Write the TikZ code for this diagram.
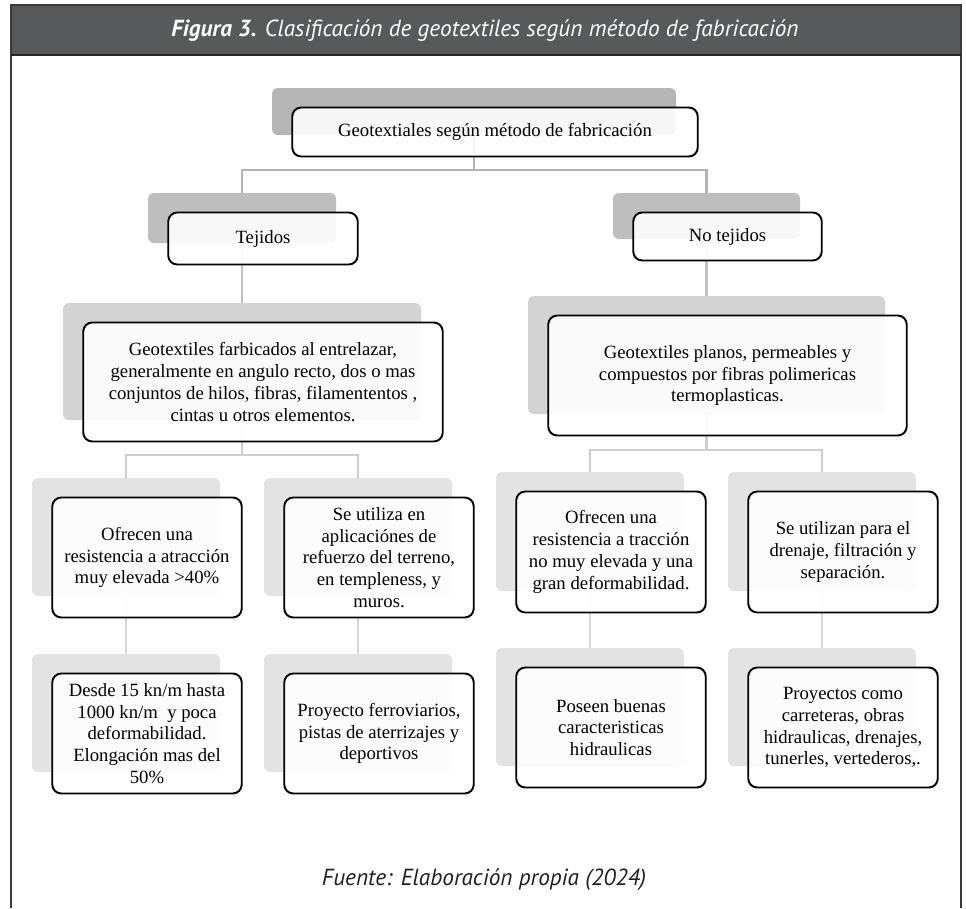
\documentclass[tikz,border=0pt]{standalone}
\usepackage{fontspec}
\setmainfont{Liberation Serif}
\newfontfamily\capfont{PT Sans}
\usetikzlibrary{calc}
\pgfdeclarelayer{bg}
\pgfsetlayers{bg,main}

\definecolor{hdrgray}{HTML}{58595B}
\definecolor{framegray}{HTML}{3A3A3A}
\definecolor{shadeA}{HTML}{B6B6B6}
\definecolor{shadeB}{HTML}{BEBEBE}
\definecolor{shadeC}{HTML}{D3D3D3}
\definecolor{shadeD}{HTML}{E3E3E3}
\definecolor{lineA}{HTML}{B3B3B3}
\definecolor{lineB}{HTML}{C2C2C2}
\definecolor{lineC}{HTML}{CFCFCF}
\definecolor{lineD}{HTML}{D8D8D8}
\definecolor{foottext}{HTML}{231F20}

\tikzset{
  shadebox/.style={rectangle, rounded corners=6pt, draw=none, inner sep=0pt},
  textbox/.style={rectangle, rounded corners=9pt, draw=black, line width=1.9pt,
    fill=white, fill opacity=0.9, text opacity=1, inner sep=1pt, align=center,
    font=\fontsize{18.7}{21.8}\selectfont},
  conn/.style={line width=2.3pt},
  captext/.style={font=\capfont\itshape\fontsize{23.3}{28}\selectfont},
}

% #1 name, #2 shade colour, #3-#6 shade corners (x1,y1,x2,y2), #7 text
\newcommand{\geobox}[7]{%
  \node[shadebox, fill=#2, minimum width={(#5-#3)*1pt}, minimum height={(#6-#4)*1pt}]
    (#1s) at ({(#3+#5)/2},{(#4+#6)/2}) {};
  \node[textbox, minimum width={(#5-#3+1.5)*1pt}, minimum height={(#6-#4+2)*1pt}]
    (#1) at ({(#3+#5)/2+21},{(#4+#6)/2+20.5}) {#7};
}

\begin{document}
\begin{tikzpicture}[x=1pt,y=-1pt]
\useasboundingbox (0,0) rectangle (966,908);

% header band and frame
\fill[hdrgray] (11,5) rectangle (961,55);
\draw[framegray, line width=2.4pt] (11,908) -- (11,5) -- (961,5) -- (961,908);
\draw[black!85, line width=2pt] (11,55) -- (961,55);
\node[captext, text=white] (title) at (485,31)
  {\textbf{Figura 3.} Clasificación de geotextiles según método de fabricación};

% level 1
\geobox{top}{shadeA}{272}{88}{676}{135}{Geotextiales según método de fabricación}
% level 2
\geobox{tej}{shadeB}{148}{193}{336}{243}{Tejidos}
\geobox{notej}{shadeB}{613}{193}{800}{239}{No tejidos}
% level 3
\geobox{tejd}{shadeC}{63}{303}{421}{420}{Geotextiles farbicados al entrelazar,\\generalmente en angulo recto, dos o mas\\conjuntos de hilos, fibras, filamententos ,\\cintas u otros elementos.}
\geobox{notejd}{shadeC}{528}{296}{885}{414}{Geotextiles planos, permeables y\\compuestos por fibras polimericas\\termoplasticas.}
% level 4
\geobox{ta}{shadeD}{32}{478}{220}{596}{Ofrecen una\\resistencia a atracción\\muy elevada >40\%}
\geobox{tb}{shadeD}{264}{478}{452}{596}{Se utiliza en\\aplicaciónes de\\refuerzo del terreno,\\en templeness, y\\muros.}
\geobox{na}{shadeD}{496}{472}{684}{591}{Ofrecen una\\resistencia a tracción\\no muy elevada y una\\gran deformabilidad.}
\geobox{nb}{shadeD}{728}{472}{916}{591}{Se utilizan para el\\drenaje, filtración y\\separación.}
% level 5
\geobox{tc}{shadeD}{32}{654}{220}{772}{Desde 15 kn/m hasta\\1000 kn/m~ y poca\\deformabilidad.\\Elongación mas del\\50\%}
\geobox{td}{shadeD}{264}{654}{452}{772}{Proyecto ferroviarios,\\pistas de aterrizajes y\\deportivos}
\geobox{nc}{shadeD}{496}{648}{684}{766}{Poseen buenas\\caracteristicas\\hidraulicas}
\geobox{nd}{shadeD}{728}{648}{916}{766}{Proyectos como\\carreteras, obras\\hidraulicas, drenajes,\\tunerles, vertederos,.}

% footer
\node[captext, text=foottext] (foot) at (484,880)
  {Fuente: Elaboración propia (2024)};

% connectors, kept behind the boxes
\coordinate (j1) at (0,170);
\coordinate (j2) at (0,455);
\coordinate (j3) at (0,450);
\begin{pgfonlayer}{bg}
  \draw[conn, lineA] (tops.south) -- (tops.south |- j1) -| (tejs.north);
  \draw[conn, lineA] (tops.south |- j1) -| (notejs.north);
  \draw[conn, lineB] (tejs.south) -- (tejds.north);
  \draw[conn, lineB] (notejs.south) -- (notejds.north);
  \draw[conn, lineC] (tejds.south) -- (tejds.south |- j2) -| (tas.north);
  \draw[conn, lineC] (tejds.south |- j2) -| (tbs.north);
  \draw[conn, lineC] (notejds.south) -- (notejds.south |- j3) -| (nas.north);
  \draw[conn, lineC] (notejds.south |- j3) -| (nbs.north);
  \draw[conn, lineD] (tas.south) -- (tcs.north);
  \draw[conn, lineD] (tbs.south) -- (tds.north);
  \draw[conn, lineD] (nas.south) -- (ncs.north);
  \draw[conn, lineD] (nbs.south) -- (nds.north);
\end{pgfonlayer}
\end{tikzpicture}
\end{document}
